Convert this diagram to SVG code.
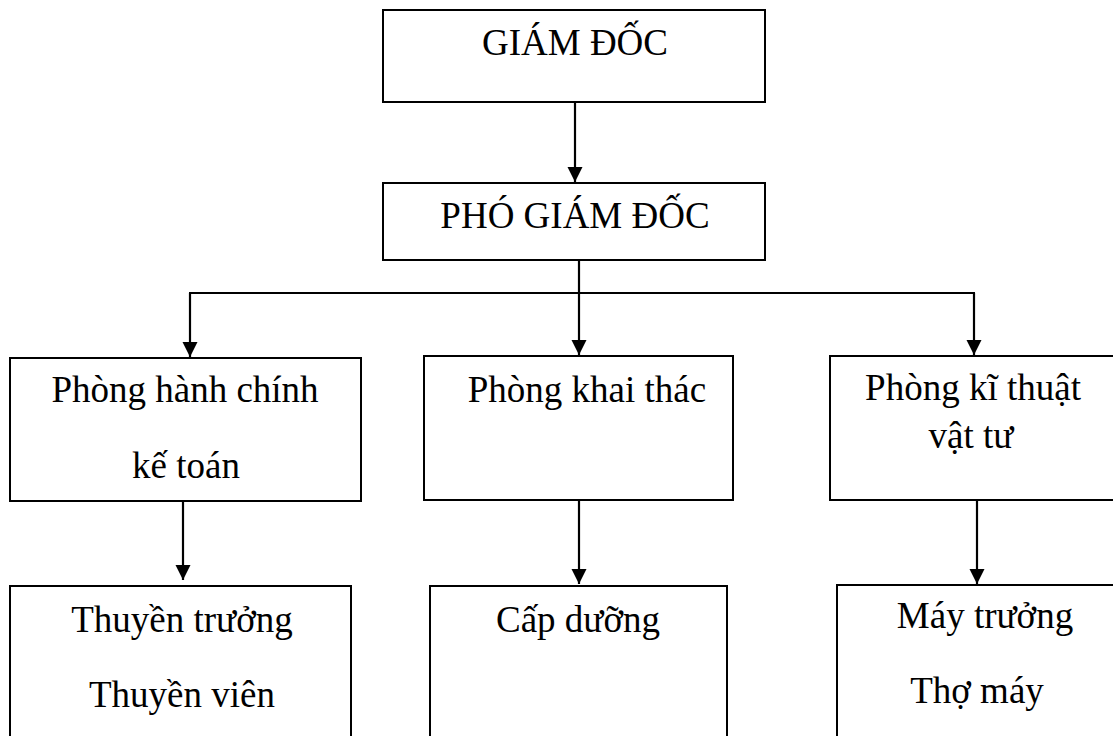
<svg xmlns="http://www.w3.org/2000/svg" width="1113" height="736" viewBox="0 0 1113 736">
<style>
.box{fill:#fff;stroke:#000;stroke-width:2}
.t{font-family:'Liberation Serif','Times New Roman',serif;font-size:37px;fill:#000;text-anchor:middle}
.c{fill:none;stroke:#000;stroke-width:2.2}
</style>
<defs>
<marker id="arr" markerUnits="userSpaceOnUse" markerWidth="16" markerHeight="16" refX="15" refY="7.5" orient="auto">
<path d="M0,0 L15,7.5 L0,15 z" fill="#000"/>
</marker>
</defs>
<rect width="1113" height="736" fill="#fff"/>
<g id="connectors">
<line class="c" x1="575" y1="102" x2="575" y2="182" marker-end="url(#arr)"/>
<line class="c" x1="579" y1="260" x2="579" y2="355" marker-end="url(#arr)"/>
<line class="c" x1="189" y1="293" x2="975" y2="293"/>
<line class="c" x1="190" y1="293" x2="190" y2="357" marker-end="url(#arr)"/>
<line class="c" x1="974" y1="293" x2="974" y2="355" marker-end="url(#arr)"/>
<line class="c" x1="183" y1="501" x2="183" y2="580" marker-end="url(#arr)"/>
<line class="c" x1="579" y1="500" x2="579" y2="584" marker-end="url(#arr)"/>
<line class="c" x1="977" y1="500" x2="977" y2="584" marker-end="url(#arr)"/>
</g>
<g id="giam-doc">
<rect class="box" x="383" y="10" width="382" height="92"/>
<text class="t" x="575" y="55">GIÁM ĐỐC</text>
</g>
<g id="pho-giam-doc">
<rect class="box" x="383" y="183" width="382" height="77"/>
<text class="t" x="575" y="228">PHÓ GIÁM ĐỐC</text>
</g>
<g id="phong-hanh-chinh">
<rect class="box" x="10" y="358" width="351" height="143"/>
<text class="t" x="185" y="402">Phòng hành chính</text>
<text class="t" x="186" y="478">kế toán</text>
</g>
<g id="phong-khai-thac">
<rect class="box" x="424" y="356" width="309" height="144"/>
<text class="t" x="587" y="402">Phòng khai thác</text>
</g>
<g id="phong-ki-thuat">
<rect class="box" x="830" y="356" width="300" height="144"/>
<text class="t" x="973" y="400">Phòng kĩ thuật</text>
<text class="t" x="971" y="448">vật tư</text>
</g>
<g id="thuyen-truong">
<rect class="box" x="10" y="586" width="341" height="170"/>
<text class="t" x="182" y="632">Thuyền trưởng</text>
<text class="t" x="182" y="707">Thuyền viên</text>
</g>
<g id="cap-duong">
<rect class="box" x="430" y="586" width="297" height="170"/>
<text class="t" x="578" y="632">Cấp dưỡng</text>
</g>
<g id="may-truong">
<rect class="box" x="837" y="585" width="300" height="170"/>
<text class="t" x="985" y="628">Máy trưởng</text>
<text class="t" x="977" y="703">Thợ máy</text>
</g>
</svg>
